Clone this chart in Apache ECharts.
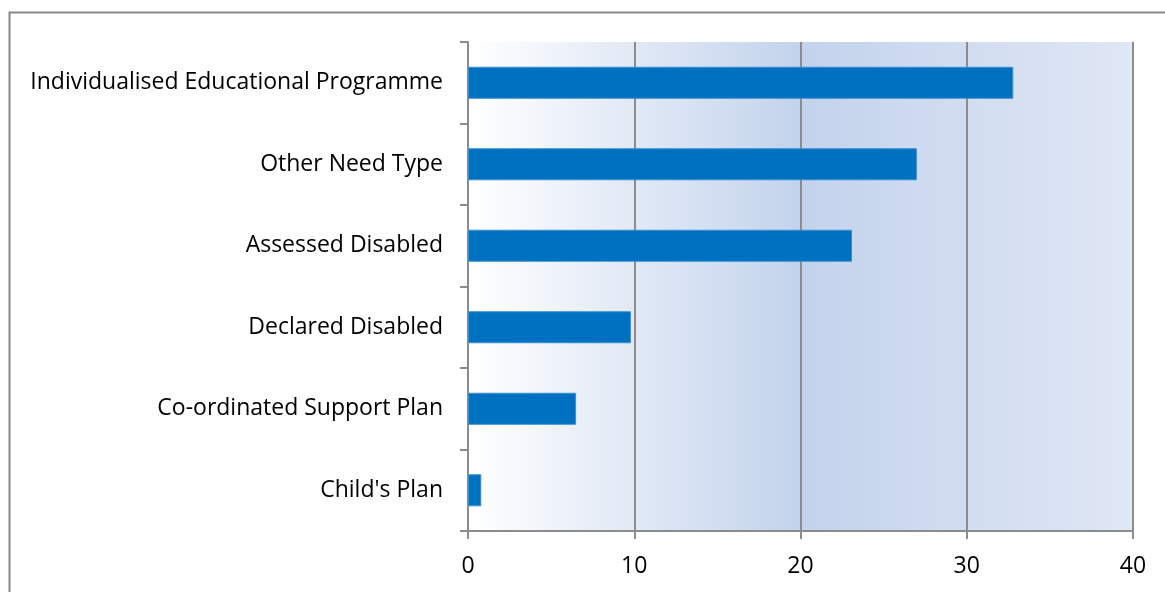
<!DOCTYPE html>
<html>
<head>
<meta charset="utf-8">
<script src="https://cdn.jsdelivr.net/npm/echarts@6/dist/echarts.min.js"></script>
<style>
  html, body { margin: 0; padding: 0; background: #fff; }
  #chart { width: 1165px; height: 592px; }
</style>
</head>
<body>
<div id="chart"></div>
<script>
var categories = [
  "Child's Plan",
  'Co-ordinated Support Plan',
  'Declared Disabled',
  'Assessed Disabled',
  'Other Need Type',
  'Individualised Educational Programme'
]
var values = [0.8, 6.5, 9.8, 23.1, 27.0, 32.8]
var xTicks = [0, 10, 20, 30, 40]

var chart = echarts.init(document.getElementById('chart'))

var axisGray = '#8c8c8c'
var labelFont = { color: '#000', fontSize: 23, fontFamily: 'Open Sans' }

chart.setOption({
  animation: false,
  graphic: [{
    type: 'rect',
    shape: { x: 9.5, y: 12.5, width: 1300, height: 700 },
    style: { fill: 'none', stroke: '#888', lineWidth: 2 },
    z: -10
  }],
  grid: {
    left: 468, right: 32, top: 42, bottom: 61,
    show: true,
    borderWidth: 0,
    backgroundColor: {
      type: 'linear', x: 0, y: 0, x2: 1, y2: 0,
      colorStops: [
        { offset: 0, color: '#ffffff' },
        { offset: 0.5, color: '#c3d3ec' },
        { offset: 1, color: '#e0e7f5' }
      ]
    }
  },
  xAxis: {
    type: 'value',
    min: xTicks[0],
    max: xTicks[xTicks.length - 1],
    interval: 10,
    axisLine: { show: true, lineStyle: { color: axisGray, width: 2 } },
    axisTick: { show: true, length: 8, lineStyle: { color: axisGray, width: 2 } },
    axisLabel: Object.assign({ margin: 24 }, labelFont),
    splitLine: { show: true, lineStyle: { color: axisGray, width: 2 } }
  },
  yAxis: {
    type: 'category',
    data: categories,
    axisLine: { show: true, lineStyle: { color: axisGray, width: 2 } },
    axisTick: { show: true, length: 8, lineStyle: { color: axisGray, width: 2 } },
    axisLabel: Object.assign({ margin: 25, padding: [5, 0, 0, 0] }, labelFont)
  },
  series: [{
    type: 'bar',
    data: values,
    barWidth: 32,
    itemStyle: { color: '#0070c0', borderColor: '#3a8fd0', borderWidth: 1 }
  }]
})
</script>
</body>
</html>
